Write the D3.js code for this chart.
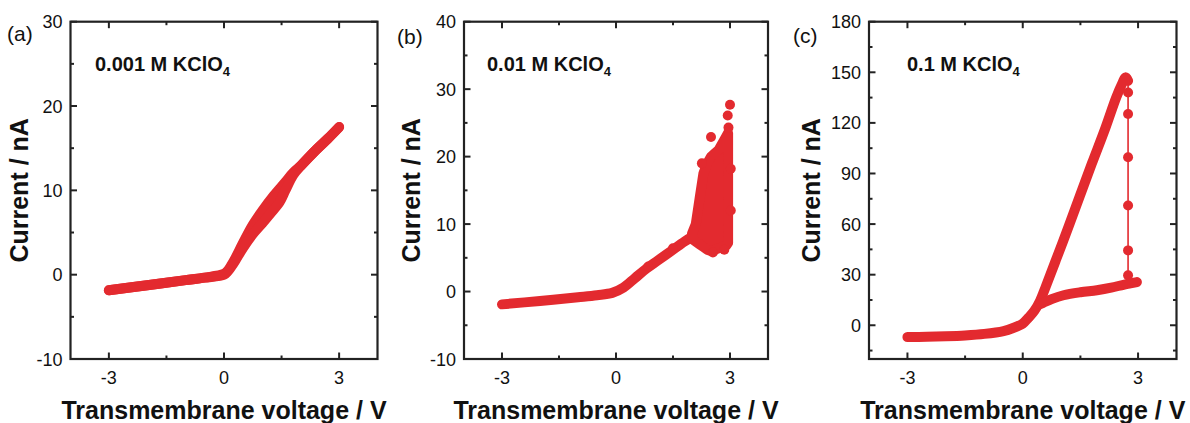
<!DOCTYPE html>
<html><head><meta charset="utf-8">
<script src="https://cdn.jsdelivr.net/npm/d3@7"></script>
<style>body{margin:0;background:#fff}</style>
</head><body><svg id="chart" width="1190" height="423" xmlns="http://www.w3.org/2000/svg"></svg>
<script>
// ---------- DATA ----------
const panelLetters = ["(a)", "(b)", "(c)"];
const concLabels = ["0.001 M KClO", "0.01 M KClO", "0.1 M KClO"];
const subscript = "4";
const xTitle = "Transmembrane voltage / V";
const yTitle = "Current / nA";
const xTickVals = [-3, 0, 3];
const xMinorVals = [-1.5, 1.5];

const aYTicks = [-10, 0, 10, 20, 30];
const aYMinor = [-5, 5, 15, 25];
const bYTicks = [-10, 0, 10, 20, 30, 40];
const bYMinor = [-5, 5, 15, 25, 35];
const cYTicks = [0, 30, 60, 90, 120, 150, 180];
const cYMinor = [-15, 15, 45, 75, 105, 135, 165];

// (a) 0.001 M: forward and reverse sweeps
const aFwdV = [-3, -2, -1, -0.5, 0, 0.1, 0.2, 0.3, 0.5, 0.75, 1.0, 1.3, 1.6, 1.8, 2.0, 2.4, 2.7, 3.0];
const aFwdI = [-1.85, -1.25, -0.65, -0.35, 0.1, 0.5, 1.2, 2.0, 3.8, 5.9, 7.6, 9.4, 11.0, 12.1, 12.9, 14.8, 16.1, 17.5];
const aRevV = [3.0, 2.7, 2.4, 2.0, 1.8, 1.6, 1.45, 1.2, 1.0, 0.75, 0.5, 0.3, 0.2, 0.1, 0, -0.5, -1, -2, -3];
const aRevI = [17.5, 16.1, 14.8, 12.9, 11.8, 10.0, 8.6, 7.2, 6.1, 4.8, 3.2, 1.7, 1.0, 0.4, 0.0, -0.35, -0.65, -1.25, -1.85];

// (b) 0.01 M: main band, noisy region (low/high envelope), scattered dots
const bV = [-3, -2, -1, -0.5, -0.1, 0.2, 0.5, 0.8, 1.1, 1.5, 1.8, 2.0];
const bI = [-1.9, -1.4, -0.85, -0.55, -0.2, 0.6, 2.0, 3.4, 4.6, 6.2, 7.4, 8.1];
const bNoiseV = [2.0, 2.1, 2.2, 2.3, 2.4, 2.5, 2.6, 2.7, 2.8, 2.9, 2.95];
const bNoiseLo = [7.8, 7.4, 7.0, 6.6, 6.2, 6.0, 6.2, 6.4, 6.6, 6.8, 7.2];
const bNoiseHi = [8.6, 10.0, 13.8, 17.5, 19.0, 20.0, 20.5, 21.0, 22.0, 23.0, 23.5];
const bDotsV = [0.85, 1.5, 2.26, 2.5, 2.94, 3.0, 2.96, 3.02, 3.02, 2.55, 2.85];
const bDotsI = [3.7, 6.4, 19.0, 22.9, 26.1, 27.7, 24.3, 18.2, 12.0, 5.8, 6.2];

// (c) 0.1 M: forward sweep, current drop, return branch
const cFwdV = [-3, -2.5, -2, -1.5, -1, -0.5, -0.25, 0, 0.15, 0.3, 0.45, 0.6, 0.86, 1.2, 1.49, 1.8, 2.15, 2.43, 2.6, 2.67, 2.74];
const cFwdI = [-7, -6.8, -6.5, -6.0, -5.1, -3.4, -1.6, 1.0, 4.5, 8.5, 14.5, 23, 38.5, 59, 77, 96, 117, 135, 144, 147, 145];
const cDropV = [2.74, 2.74, 2.74, 2.74, 2.74, 2.74, 2.74, 2.76];
const cDropI = [145, 138, 125.3, 99.6, 71, 44.4, 29.6, 25];
const cDropDotsV = [2.74, 2.74, 2.74, 2.74, 2.74, 2.74];
const cDropDotsI = [138, 125.3, 99.6, 71, 44.4, 29.6];
const cRetV = [2.97, 2.8, 2.62, 2.3, 1.93, 1.5, 1.06, 0.75, 0.55, 0.45];
const cRetI = [25.6, 24.8, 24.0, 22.3, 20.8, 19.6, 17.8, 15.5, 13.5, 12.5];

// ---------- RENDER ----------
const svg = d3.select("#chart");
svg.append("rect").attr("width", 1190).attr("height", 423).attr("fill", "#ffffff");
const RED = "#e32a2f";
const INK = "#111111";
const FRAME = "#222222";
const FONT = "'Liberation Sans', Arial, sans-serif";
const TOP = 21.7, BOTTOM = 359;
const MAJ = 6.5, MIN = 3.5;

const panels = [
  { x0: 70.5, x1: 377.5, yDomain: [-10, 30], yTicks: aYTicks, yMinor: aYMinor,
    letterPos: [7, 41], concPos: [95, 71], yTitleX: 27.5,
    lines: [[aFwdV, aFwdI], [aRevV, aRevI]], areas: [], dots: [], thin: [] },
  { x0: 464, x1: 768, yDomain: [-10, 40], yTicks: bYTicks, yMinor: bYMinor,
    letterPos: [397, 44], concPos: [487, 71], yTitleX: 419.5,
    lines: [[bV, bI]], areas: [[bNoiseV, bNoiseLo, bNoiseHi]], dots: [[bDotsV, bDotsI]], thin: [] },
  { x0: 869, x1: 1176.5, yDomain: [-20, 180], yTicks: cYTicks, yMinor: cYMinor,
    letterPos: [793, 43], concPos: [907, 71], yTitleX: 819.5,
    lines: [[cFwdV, cFwdI], [cRetV, cRetI]], areas: [], dots: [[cDropDotsV, cDropDotsI]], thin: [[cDropV, cDropI]] }
];

panels.forEach((p, idx) => {
  const x = d3.scaleLinear().domain([-4, 4]).range([p.x0, p.x1]);
  const y = d3.scaleLinear().domain(p.yDomain).range([BOTTOM, TOP]);
  const g = svg.append("g");

  const line = d3.line().x(d => x(d[0])).y(d => y(d[1])).curve(d3.curveCatmullRom.alpha(0.5));
  p.thin.forEach(([v, i]) => {
    g.append("path").datum(d3.zip(v, i))
      .attr("d", d3.line().x(d => x(d[0])).y(d => y(d[1])))
      .attr("fill", "none").attr("stroke", RED).attr("stroke-width", 1.6);
  });
  p.lines.forEach(([v, i]) => {
    g.append("path").datum(d3.zip(v, i)).attr("d", line)
      .attr("fill", "none").attr("stroke", RED).attr("stroke-width", 10)
      .attr("stroke-linecap", "round").attr("stroke-linejoin", "round");
  });
  p.areas.forEach(([v, lo, hi]) => {
    const area = d3.area().x(d => x(d[0])).y0(d => y(d[1])).y1(d => y(d[2]));
    g.append("path").datum(d3.zip(v, lo, hi)).attr("d", area)
      .attr("fill", RED).attr("stroke", RED).attr("stroke-width", 10)
      .attr("stroke-linejoin", "round");
  });
  p.dots.forEach(([v, i]) => {
    g.selectAll(null).data(d3.zip(v, i)).join("circle")
      .attr("cx", d => x(d[0])).attr("cy", d => y(d[1])).attr("r", 5).attr("fill", RED);
  });

  // frame
  g.append("rect").attr("x", p.x0).attr("y", TOP).attr("width", p.x1 - p.x0).attr("height", BOTTOM - TOP)
    .attr("fill", "none").attr("stroke", FRAME).attr("stroke-width", 2.2);

  // inward ticks on all four sides
  const xT = xTickVals.map(v => [v, MAJ]).concat(xMinorVals.map(v => [v, MIN]));
  const yT = p.yTicks.map(v => [v, MAJ]).concat(p.yMinor.map(v => [v, MIN]));
  g.selectAll(null).data(xT).join("line")
    .attr("x1", d => x(d[0])).attr("x2", d => x(d[0])).attr("y1", BOTTOM).attr("y2", d => BOTTOM - d[1])
    .attr("stroke", FRAME).attr("stroke-width", 2);
  g.selectAll(null).data(xT).join("line")
    .attr("x1", d => x(d[0])).attr("x2", d => x(d[0])).attr("y1", TOP).attr("y2", d => TOP + d[1])
    .attr("stroke", FRAME).attr("stroke-width", 2);
  g.selectAll(null).data(yT).join("line")
    .attr("y1", d => y(d[0])).attr("y2", d => y(d[0])).attr("x1", p.x0).attr("x2", d => p.x0 + d[1])
    .attr("stroke", FRAME).attr("stroke-width", 2);
  g.selectAll(null).data(yT).join("line")
    .attr("y1", d => y(d[0])).attr("y2", d => y(d[0])).attr("x1", p.x1).attr("x2", d => p.x1 - d[1])
    .attr("stroke", FRAME).attr("stroke-width", 2);

  // tick labels
  g.selectAll(null).data(xTickVals).join("text")
    .attr("x", d => x(d)).attr("y", BOTTOM + 25).attr("text-anchor", "middle")
    .attr("font-family", FONT).attr("font-size", 18).attr("fill", INK).text(d => String(d));
  g.selectAll(null).data(p.yTicks).join("text")
    .attr("x", p.x0 - 8).attr("y", d => y(d) + 6.5).attr("text-anchor", "end")
    .attr("font-family", FONT).attr("font-size", 18).attr("fill", INK).text(d => String(d));
  // panel letter
  g.append("text").attr("x", p.letterPos[0]).attr("y", p.letterPos[1])
    .attr("font-family", FONT).attr("font-size", 21).attr("fill", INK).text(panelLetters[idx]);
  // concentration label with subscript
  const t = g.append("text").attr("x", p.concPos[0]).attr("y", p.concPos[1])
    .attr("font-family", FONT).attr("font-size", 20).attr("font-weight", "bold").attr("fill", INK);
  t.append("tspan").text(concLabels[idx]);
  t.append("tspan").attr("font-size", 13).attr("dy", 5).text(subscript);
  // axis titles
  g.append("text").attr("x", (p.x0 + p.x1) / 2).attr("y", 419).attr("text-anchor", "middle")
    .attr("font-family", FONT).attr("font-size", 25).attr("font-weight", "bold").attr("fill", INK).text(xTitle);
  g.append("text").attr("transform", `translate(${p.yTitleX},${(TOP + BOTTOM) / 2}) rotate(-90)`)
    .attr("text-anchor", "middle")
    .attr("font-family", FONT).attr("font-size", 25).attr("font-weight", "bold").attr("fill", INK).text(yTitle);
});
</script></body></html>
